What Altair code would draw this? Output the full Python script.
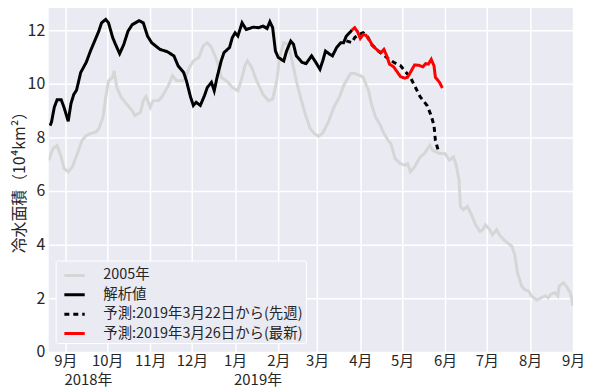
import altair as alt
import pandas as pd

# ---------------- data ----------------
names = ["2005年", "解析値", "予測:2019年3月22日から(先週)", "予測:2019年3月26日から(最新)"]

g_dates = ["2018-08-20","2018-08-23","2018-08-26","2018-08-29","2018-08-31",
           "2018-09-03","2018-09-06","2018-09-10","2018-09-13","2018-09-16","2018-09-19","2018-09-23","2018-09-25","2018-09-28","2018-09-30",
           "2018-10-02","2018-10-05","2018-10-06","2018-10-08","2018-10-11","2018-10-13","2018-10-17","2018-10-19","2018-10-21","2018-10-25","2018-10-27","2018-10-29",
           "2018-11-01","2018-11-03","2018-11-07","2018-11-10","2018-11-14","2018-11-17","2018-11-20","2018-11-24","2018-11-26","2018-11-29",
           "2018-12-02","2018-12-06","2018-12-09","2018-12-12","2018-12-15","2018-12-19","2018-12-22","2018-12-27","2018-12-30",
           "2019-01-03","2019-01-06","2019-01-08","2019-01-10","2019-01-13","2019-01-16","2019-01-21","2019-01-25","2019-01-28","2019-01-31",
           "2019-02-02","2019-02-05","2019-02-08","2019-02-11","2019-02-14","2019-02-17","2019-02-20","2019-02-24","2019-02-27",
           "2019-03-02","2019-03-05","2019-03-09","2019-03-13","2019-03-17","2019-03-20","2019-03-25","2019-03-28",
           "2019-04-01","2019-04-03","2019-04-07","2019-04-09","2019-04-12","2019-04-15","2019-04-18","2019-04-21","2019-04-23","2019-04-26","2019-04-30",
           "2019-05-03","2019-05-05","2019-05-07","2019-05-10","2019-05-14","2019-05-17","2019-05-21","2019-05-23","2019-05-28",
           "2019-06-01","2019-06-04","2019-06-07","2019-06-09","2019-06-11","2019-06-12","2019-06-14","2019-06-17","2019-06-20","2019-06-23","2019-06-26","2019-06-28","2019-06-30",
           "2019-07-03","2019-07-05","2019-07-08","2019-07-10","2019-07-13","2019-07-16","2019-07-19","2019-07-21","2019-07-23","2019-07-26","2019-07-28","2019-07-31",
           "2019-08-02","2019-08-06","2019-08-09","2019-08-12","2019-08-14","2019-08-16","2019-08-19","2019-08-21","2019-08-22","2019-08-25","2019-08-27","2019-08-30",
           "2019-09-01"]
g_values = [7.15,7.58,7.70,7.27,6.84,
            6.72,6.90,7.46,7.89,8.07,8.14,8.20,8.32,8.75,9.50,
            10.11,10.24,10.48,9.86,9.50,9.37,9.12,9.00,8.81,8.94,9.37,9.52,
            9.12,9.37,9.37,9.56,9.93,10.30,10.11,10.11,10.17,10.60,
            10.85,10.98,11.41,11.53,11.35,10.85,10.24,10.05,9.86,
            9.74,10.24,10.67,10.85,10.60,10.17,9.61,9.37,9.43,10.11,
            10.98,11.53,11.47,10.85,10.11,9.50,8.94,8.32,8.14,
            8.04,8.16,8.57,9.12,9.50,9.93,10.38,10.38,
            10.30,10.24,9.74,9.25,8.75,8.50,8.14,7.89,7.77,7.21,7.02,
            6.96,7.02,6.72,6.90,7.27,7.39,7.70,7.52,7.40,
            7.39,7.15,7.27,6.96,6.41,5.42,5.30,5.42,5.11,4.74,4.49,4.56,4.74,
            4.56,4.37,4.56,4.37,4.19,4.06,3.94,3.63,2.95,2.46,2.33,2.27,
            2.09,1.93,2.02,2.09,2.02,2.15,2.21,2.09,2.46,2.58,2.46,2.21,
            1.72]

ana_dates = ["2018-08-21","2018-08-22","2018-08-24","2018-08-26","2018-08-29","2018-08-31",
             "2018-09-03","2018-09-05","2018-09-07","2018-09-09","2018-09-12","2018-09-16","2018-09-19","2018-09-22","2018-09-25","2018-09-27","2018-09-30",
             "2018-10-02","2018-10-05","2018-10-07","2018-10-10","2018-10-13","2018-10-16","2018-10-19","2018-10-24","2018-10-27","2018-10-30",
             "2018-11-02","2018-11-08","2018-11-13","2018-11-18","2018-11-21","2018-11-25","2018-11-27","2018-11-30",
             "2018-12-02","2018-12-04","2018-12-07","2018-12-10","2018-12-12","2018-12-15","2018-12-17","2018-12-19","2018-12-22","2018-12-24","2018-12-28","2018-12-30",
             "2019-01-01","2019-01-03","2019-01-06","2019-01-09","2019-01-14","2019-01-18","2019-01-21","2019-01-24","2019-01-26","2019-01-28","2019-01-30",
             "2019-02-01","2019-02-05","2019-02-07","2019-02-10","2019-02-12","2019-02-14","2019-02-18","2019-02-21","2019-02-25","2019-02-28",
             "2019-03-03","2019-03-05","2019-03-07","2019-03-10","2019-03-12","2019-03-15","2019-03-18","2019-03-20","2019-03-22","2019-03-25","2019-03-26"]
ana_values = [8.44,8.57,9.12,9.40,9.40,9.12,
              8.60,9.26,9.60,9.76,10.42,10.80,11.22,11.59,11.96,12.27,12.40,
              12.27,11.72,11.47,11.12,11.47,11.96,12.20,12.35,12.27,11.78,
              11.53,11.28,11.20,11.04,10.67,10.42,10.11,9.50,
              9.19,9.31,9.19,9.56,9.86,10.05,9.74,10.23,10.85,11.16,11.35,11.72,
              11.90,11.78,12.27,12.02,12.11,12.09,12.15,12.06,12.31,12.09,11.22,
              10.98,10.85,11.22,11.59,11.47,11.04,10.80,10.75,11.04,10.80,
              10.54,10.85,11.22,11.10,11.04,11.35,11.53,11.53,11.78,11.94,12.00]

f22_dates = ["2019-03-22","2019-03-26","2019-03-28","2019-03-31",
             "2019-04-03","2019-04-06","2019-04-09","2019-04-14","2019-04-20","2019-04-25","2019-04-30",
             "2019-05-03","2019-05-07","2019-05-10","2019-05-14","2019-05-19","2019-05-22","2019-05-24","2019-05-25","2019-05-27","2019-05-28"]
f22_values = [11.60,11.53,11.72,11.83,
              11.90,11.78,11.47,11.22,10.98,10.80,10.67,
              10.48,10.24,9.93,9.52,9.19,8.81,8.44,7.89,7.52,7.49]

f26_dates = ["2019-03-26","2019-03-28","2019-03-30",
             "2019-04-01","2019-04-03","2019-04-05","2019-04-08","2019-04-10","2019-04-14","2019-04-16","2019-04-18","2019-04-20","2019-04-22","2019-04-25","2019-04-27","2019-04-30",
             "2019-05-03","2019-05-05","2019-05-07","2019-05-10","2019-05-13","2019-05-16","2019-05-18","2019-05-20","2019-05-22","2019-05-24","2019-05-25","2019-05-28","2019-05-30"]
f26_values = [12.00,12.09,11.94,
              11.69,11.83,11.81,11.59,11.41,11.22,11.16,11.28,11.04,10.73,10.63,10.48,10.26,
              10.21,10.24,10.42,10.70,10.69,10.63,10.75,10.73,10.91,10.67,10.24,10.05,9.84]

year_dates = ["2018-09-01", "2019-01-01"]
year_labels = ["2018年", "2019年"]
y_ticks = [0, 2, 4, 6, 8, 10, 12]

# ---------------- chart ----------------
FONT = "Noto Sans CJK JP"
TXT = "#262626"

series = [(names[0], g_dates, g_values), (names[1], ana_dates, ana_values),
          (names[2], f22_dates, f22_values), (names[3], f26_dates, f26_values)]

month_ticks = [alt.DateTime(year=2018 + (m + 8) // 12, month=(m + 8) % 12 + 1, date=1, utc=True) for m in range(13)]

xscale = alt.Scale(type="utc", domain=[alt.DateTime(year=2018, month=8, date=20, utc=True),
                                       alt.DateTime(year=2019, month=9, date=1, utc=True)])
yscale = alt.Scale(domain=[0, 12.96], nice=False, zero=False)

leg = alt.Legend(title=None, orient="none", legendX=7, legendY=258,
                 fillColor="#EAEAF2", strokeColor="white", cornerRadius=2,
                 padding=3, symbolType="stroke", symbolSize=420, symbolOffset=4,
                 labelFont=FONT, labelFontSize=14.5, labelColor=TXT, labelOffset=17,
                 rowPadding=0.5, labelLimit=400)

color_scale = alt.Scale(domain=names, range=["#d6d6d6", "#000000", "#000000", "#ff0000"])
dash_scale = alt.Scale(domain=names, range=[[1, 0], [1, 0], [5, 4], [1, 0]])
width_scale = alt.Scale(domain=names, range=[3, 3, 1.6, 3])

layers = []
for name, d, v in series:
    df = pd.DataFrame({"date": d, "value": v, "series": name})
    layers.append(
        alt.Chart(df).mark_line(clip=True).encode(
            x=alt.X("date:T", scale=xscale,
                    axis=alt.Axis(values=month_ticks, format="%-m月", title=None,
                                  labelPadding=2, labelOverlap=False, labelFlush=False,
                                  labelBound=False, labelFontSize=15)),
            y=alt.Y("value:Q", scale=yscale,
                    axis=alt.Axis(values=y_ticks, title="冷水面積（10⁴km²）",
                                  labelPadding=4, titlePadding=0, titleFontSize=16)),
            color=alt.Color("series:N", scale=color_scale, legend=leg),
            strokeDash=alt.StrokeDash("series:N", scale=dash_scale, legend=leg),
            strokeWidth=alt.StrokeWidth("series:N", scale=width_scale, legend=leg),
        )
    )

ydf = pd.DataFrame({"date": year_dates, "label": year_labels})
years = alt.Chart(ydf).mark_text(align="left", baseline="top", dx=-1, fontSize=15,
                                 font=FONT, color=TXT).encode(
    x=alt.X("date:T"),
    y=alt.value(371),
    text="label:N",
)

chart = alt.layer(*layers, years).properties(
    width=528, height=350,
    padding={"left": 41, "top": -5, "right": 14, "bottom": 38},
    autosize="none",
    background="white",
).configure_view(
    fill="#EAEAF2", stroke=None
).configure_axis(
    grid=True, gridColor="white", gridWidth=1.5, domain=False, ticks=False,
    labelFont=FONT, labelFontSize=16, labelColor=TXT,
    titleFont=FONT, titleColor=TXT, titleFontWeight="normal",
)

chart.save("out.html", embed_options={"renderer": "svg", "actions": False})
